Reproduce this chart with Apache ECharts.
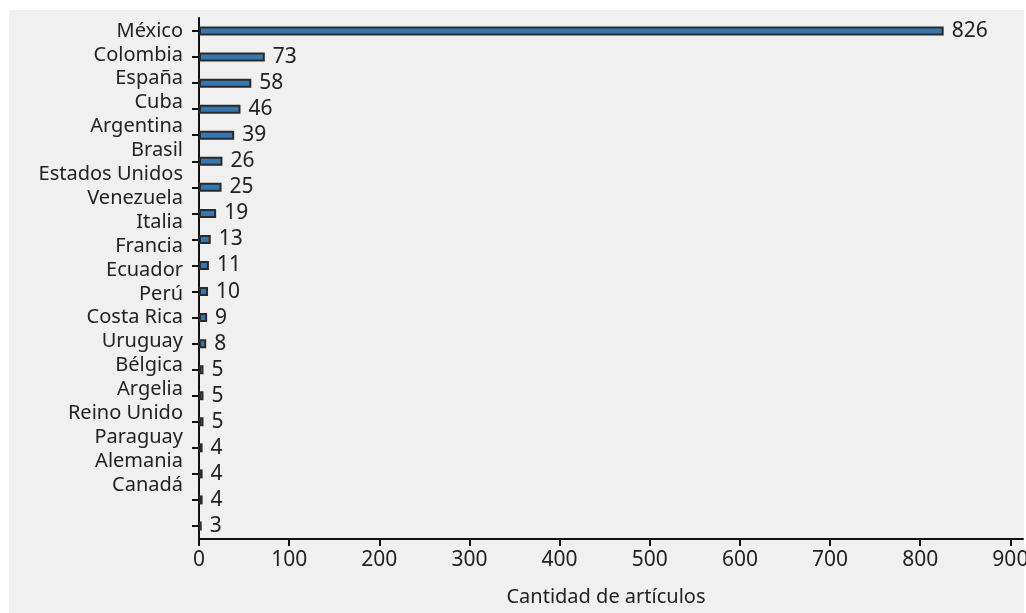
<!DOCTYPE html>
<html>
<head>
<meta charset="utf-8">
<script src="https://cdn.jsdelivr.net/npm/echarts@6/dist/echarts.min.js"></script>
<style>html,body{margin:0;padding:0;background:#fff;overflow:hidden;}#c{width:1026px;height:613px;}</style>
</head>
<body>
<div id="c"></div>
<script>
const countries = ["México","Colombia","España","Cuba","Argentina","Brasil","Estados Unidos","Venezuela","Italia","Francia","Ecuador","Perú","Costa Rica","Uruguay","Bélgica","Argelia","Reino Unido","Paraguay","Alemania","Canadá"];
const articles = [826,73,58,46,39,26,25,19,13,11,10,9,8,5,5,5,4,4,4,3];
const xTicks = [0,100,200,300,400,500,600,700,800,900];
const xTitle = "Cantidad de artículos";

const FONT = "Noto Sans";
const chart = echarts.init(document.getElementById('c'), null, {renderer: 'canvas'});
chart.setOption({
  backgroundColor: '#ffffff',
  animation: false,
  graphic: [{
    type: 'rect', z: -100, silent: true,
    shape: {x: 9, y: 10, width: 1015, height: 603},
    style: {fill: '#f0f0f0'}
  }],
  grid: [
    {left: 199, right: 3, top: 18, bottom: 74, containLabel: false, outerBoundsMode: 'none'},
    {left: 199, right: 3, top: 19, height: 478, containLabel: false, outerBoundsMode: 'none'}
  ],
  xAxis: [{
    type: 'value', gridIndex: 0, min: 0, max: 914,
    name: xTitle, nameLocation: 'middle', nameGap: 48,
    nameTextStyle: {fontFamily: FONT, fontSize: 20, color: '#222', padding: [0, 10, 0, 0]},
    axisLine: {show: true, lineStyle: {color: '#111', width: 2}},
    axisTick: {show: true, length: 7, lineStyle: {color: '#111', width: 2}, customValues: xTicks},
    axisLabel: {fontFamily: FONT, fontSize: 21, color: '#222', margin: 11, customValues: xTicks},
    splitLine: {show: false}
  }, {
    type: 'value', gridIndex: 1, min: 0, max: 914, show: false
  }],
  yAxis: [{
    type: 'category', gridIndex: 0, data: countries, inverse: true,
    axisLine: {show: true, lineStyle: {color: '#111', width: 2}},
    axisTick: {show: true, alignWithLabel: true, interval: 0, length: 7, lineStyle: {color: '#111', width: 2}},
    axisLabel: {show: false},
    splitLine: {show: false}
  }, {
    type: 'category', gridIndex: 1, data: countries, inverse: true,
    axisLine: {show: false}, axisTick: {show: false},
    axisLabel: {show: true, interval: 0, fontFamily: FONT, fontSize: 20, color: '#222', margin: 16}
  }],
  series: [{
    type: 'bar', xAxisIndex: 0, yAxisIndex: 0,
    data: articles, barWidth: 9,
    itemStyle: {color: '#3776ae', borderColor: '#2a2a2a', borderWidth: 2},
    label: {show: true, position: 'right', distance: 8, fontFamily: FONT, fontSize: 21, color: '#222'}
  }]
});
</script>
</body>
</html>
